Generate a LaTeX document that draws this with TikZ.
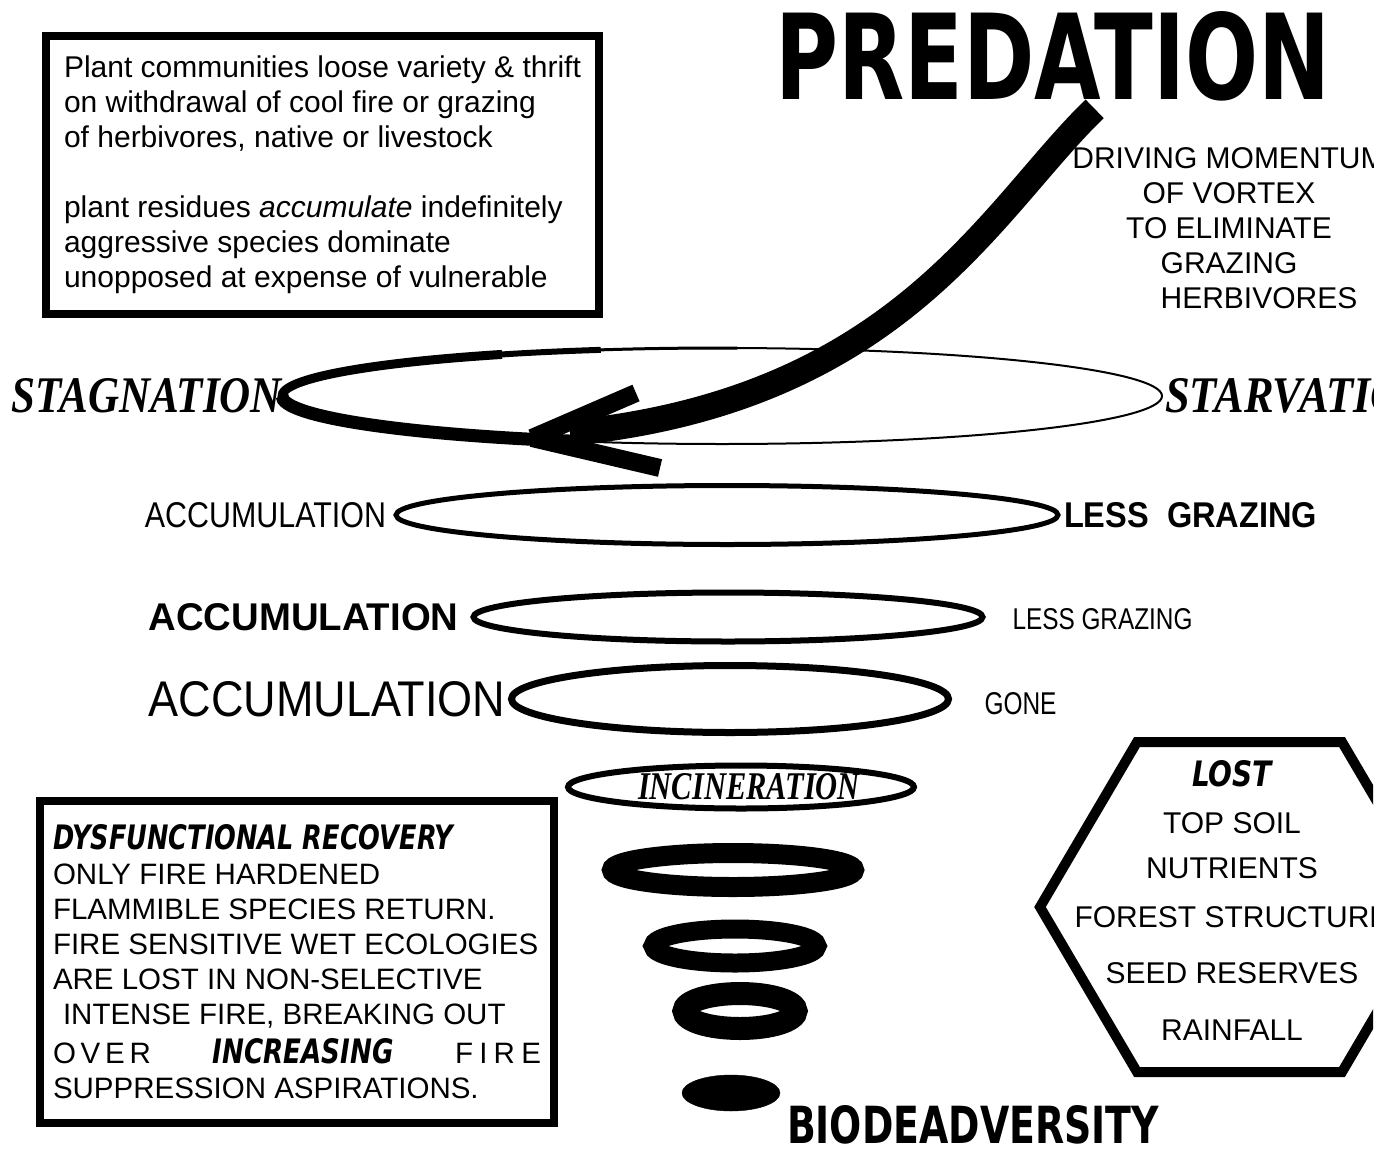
\documentclass[tikz,border=0pt]{standalone}
\usepackage{graphicx}
\usepackage{fontspec}
\setmainfont{Liberation Sans}
\newfontfamily\handfont{DejaVu Sans}
\newfontfamily\inkfont{Liberation Serif}
\usetikzlibrary{positioning,shapes.geometric}
\newcommand{\fitword}[3]{\resizebox{#1pt}{#2pt}{#3}}
\begin{document}
\begin{tikzpicture}[x=1pt, y=-1pt,
    notebox/.style={draw, rectangle, line width=8pt, align=left, inner sep=0pt},
    notetext/.style={font=\fontsize{30}{35}\selectfont},
    ring/.style={draw, ellipse, inner sep=0pt, outer sep=0pt},
    word/.style={inner sep=0pt, outer sep=0pt}]
  \useasboundingbox (0,0) rectangle (1389,1151);
  \clip (0,0) rectangle (1373,1151);
  % notes
  \node[notebox, notetext, minimum width=553pt, minimum height=278pt] (withdrawal) at (322.5,175)
    {Plant communities loose variety \& thrift\\ on withdrawal of cool fire or grazing\\ of herbivores, native or livestock\\[35pt]
     plant residues \textit{accumulate} indefinitely\\ aggressive species dominate\\ unopposed at expense of vulnerable};
  \node[notebox, font=\fontsize{29.5}{35}\selectfont, minimum width=514pt, minimum height=322pt] (recovery) at (297,962)
    {\fitword{400}{25}{\handfont\bfseries\itshape DYSFUNCTIONAL RECOVERY}\\ ONLY FIRE HARDENED\\ FLAMMIBLE SPECIES RETURN.\\
     FIRE SENSITIVE WET ECOLOGIES\\ ARE LOST IN NON-SELECTIVE\\ \hspace*{10pt}INTENSE FIRE, BREAKING OUT\\[4pt]
     \makebox[488pt][s]{\makebox[98pt][s]{O\hfill V\hfill E\hfill R}\hfill\fitword{181}{25}{\handfont\bfseries\itshape INCREASING}\hfill\makebox[86pt][s]{F\hfill I\hfill R\hfill E}}\\
     SUPPRESSION ASPIRATIONS.};
  % title
  \node[word, anchor=west] (predation) at (775,56) {\fitword{555}{88}{\handfont\bfseries PREDATION}};
  \node[word, notetext, align=center] (momentum) at (1229,228)
    {DRIVING MOMENTUM\\ OF VORTEX\\ TO ELIMINATE\\ GRAZING\\ \hspace*{60pt}HERBIVORES};
  % the vortex
  \node[ring, line width=2pt, minimum width=880pt, minimum height=96pt] (ring1) at (722,396) {};
  \node[word, left=0pt of ring1] (stagnation) {\fitword{270}{34}{\inkfont\bfseries\itshape STAGNATION}};
  \node[word, right=3pt of ring1] (starvation) {\fitword{270}{34}{\inkfont\bfseries\itshape STARVATION}};
  \node[ring, line width=5pt, minimum width=662pt, minimum height=59pt] (ring2) at (727,515) {};
  \node[word, left=10pt of ring2] (acc1) {\fitword{241}{25}{ACCUMULATION}};
  \node[word, right=6pt of ring2] (less1) {\fitword{253}{25}{\bfseries LESS\ \ GRAZING}};
  \node[ring, line width=6pt, minimum width=509pt, minimum height=49pt] (ring3) at (728,617) {};
  \node[word, left=15pt of ring3] (acc2) {\fitword{310}{27}{\bfseries ACCUMULATION}};
  \node[word, right=30pt of ring3, yshift=-2pt] (less2) {\fitword{180}{21}{LESS GRAZING}};
  \node[ring, line width=7pt, minimum width=437pt, minimum height=67pt] (ring4) at (730,699) {};
  \node[word, left=6pt of ring4] (acc3) {\fitword{357}{35}{ACCUMULATION}};
  \node[word, right=36pt of ring4, yshift=-5pt] (gone) {\fitword{72}{22}{GONE}};
  \node[ring, line width=6pt, minimum width=346pt, minimum height=43pt] (ring5) at (741,787)
    {\hspace*{16pt}\fitword{222}{26}{\inkfont\bfseries\itshape INCINERATION}};
  \node[ring, line width=20pt, minimum width=242pt, minimum height=34pt] (ring6) at (733,870) {};
  \node[ring, line width=19pt, minimum width=164pt, minimum height=34pt] (ring7) at (735,946) {};
  \node[ring, line width=23pt, minimum width=112pt, minimum height=35pt] (ring8) at (740,1011) {};
  \node[ring, fill, minimum width=98pt, minimum height=36pt] (ring9) at (731,1093) {};
  \node[word, anchor=west] (biodeadversity) at (787,1125) {\fitword{372}{38}{\handfont\bfseries BIODEADVERSITY}};
  % thick rim and arrow
  \draw[line width=3pt] ([shift={(88:440pt and 48pt)}]ring1.center) arc[start angle=88, end angle=110, x radius=440pt, y radius=48pt];
  \draw[line width=6pt] ([shift={(106:440pt and 48pt)}]ring1.center) arc[start angle=106, end angle=125, x radius=440pt, y radius=48pt];
  \draw[line width=9pt] ([shift={(120:440pt and 48pt)}]ring1.center) arc[start angle=120, end angle=185, x radius=440pt, y radius=48pt];
  \draw[line width=13pt] ([shift={(180:440pt and 48pt)}]ring1.center) arc[start angle=180, end angle=250, x radius=440pt, y radius=48pt];
  \coordinate (tail) at ([xshift=42pt, yshift=-8pt]predation.south);
  \coordinate (tip) at (532,438);
  \coordinate (barbup) at (636,393);
  \coordinate (barbdown) at (660,468);
  \draw[line width=26pt] (tail) .. controls (990,210) and (900,400) .. (570,433);
  \draw[line width=18pt] (tip) -- (barbup);
  \draw[line width=18pt] (tip) -- (barbdown);
  % lost
  \coordinate (hexc) at (1239.5,907);
  \draw[line width=10pt] (hexc) ++(-102.5,-165) -- ++(205,0) -- ++(97,165) -- ++(-97,165) -- ++(-205,0) -- ++(-97,-165) -- cycle;
  \node[word, notetext, align=center] (lost) at (1232,900)
    {\fitword{80}{26}{\handfont\bfseries\itshape LOST}\\[12pt] TOP SOIL\\[10pt] NUTRIENTS\\[14pt] FOREST STRUCTURE\\[21pt] SEED RESERVES\\[22pt] RAINFALL};
\end{tikzpicture}
\end{document}
